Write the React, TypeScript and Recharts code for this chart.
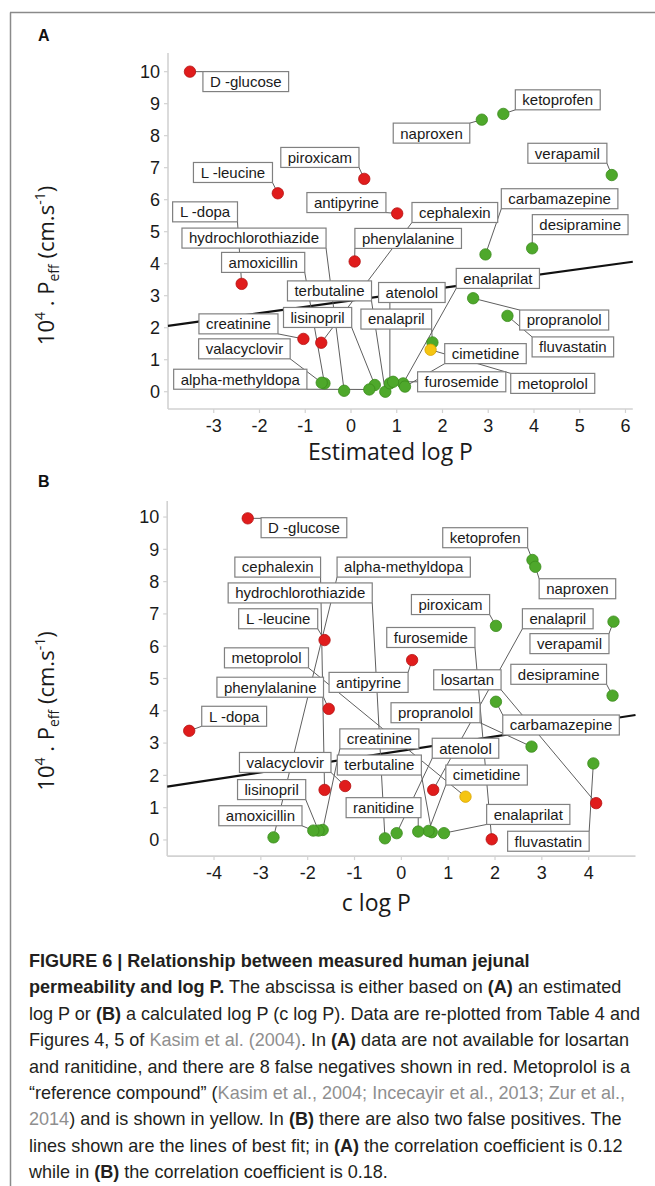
import React from 'react';
import { ScatterChart, Scatter, XAxis, YAxis } from 'recharts';

// ---------------- Panel A : estimated log P ----------------
const namesA = [
  'D -glucose', 'ketoprofen', 'naproxen', 'verapamil', 'piroxicam', 'L -leucine',
  'antipyrine', 'carbamazepine', 'desipramine', 'cephalexin', 'L -dopa',
  'hydrochlorothiazide', 'phenylalanine', 'amoxicillin', 'enalaprilat', 'terbutaline',
  'atenolol', 'propranolol', 'creatinine', 'lisinopril', 'enalapril', 'fluvastatin',
  'valacyclovir', 'cimetidine', 'metoprolol', 'alpha-methyldopa', 'furosemide',
];
const logPA = [
  -3.52, 3.33, 2.86, 5.70, 0.29, -1.60,
  1.01, 2.94, 3.96, -0.65, -2.39,
  -0.15, 0.08, -0.58, 1.14, 0.75,
  0.85, 2.67, -1.04, 0.52, 1.78, 3.42,
  -0.64, 1.18, 1.74, 0.40, 0.92,
];
const peffA = [
  10.0, 8.68, 8.50, 6.77, 6.65, 6.20,
  5.57, 4.29, 4.48, 1.53, 3.37,
  0.03, 4.07, 0.26, 0.26, 0.0,
  0.26, 2.92, 1.65, 0.21, 1.54, 2.37,
  0.28, 0.16, 1.31, 0.07, 0.31,
];
// neg = false negative (red), ref = reference compound (yellow), ok = green
const classA = [
  'neg', 'ok', 'ok', 'ok', 'neg', 'neg',
  'neg', 'ok', 'ok', 'neg', 'neg',
  'ok', 'neg', 'ok', 'ok', 'ok',
  'ok', 'ok', 'neg', 'ok', 'ok', 'ok',
  'ok', 'ok', 'ref', 'ok', 'ok',
];
const fitXA = [-4, 6.16];
const fitYA = [2.06, 4.06];
const xTicksA = [-3, -2, -1, 0, 1, 2, 3, 4, 5, 6];
const yTicksA = [0, 1, 2, 3, 4, 5, 6, 7, 8, 9, 10];

// ---------------- Panel B : c log P ----------------
const namesB = [
  'D -glucose', 'ketoprofen', 'cephalexin', 'alpha-methyldopa', 'hydrochlorothiazide',
  'naproxen', 'piroxicam', 'L -leucine', 'enalapril', 'verapamil', 'furosemide',
  'metoprolol', 'antipyrine', 'losartan', 'desipramine', 'phenylalanine', 'propranolol',
  'L -dopa', 'carbamazepine', 'creatinine', 'atenolol', 'valacyclovir', 'terbutaline',
  'cimetidine', 'lisinopril', 'ranitidine', 'amoxicillin', 'enalaprilat', 'fluvastatin',
];
const clogPB = [
  -3.28, 2.80, -1.64, -2.73, -0.35,
  2.86, 2.02, -1.64, 0.68, 4.53, 1.93,
  1.37, 0.23, 4.16, 4.51, -1.55, 2.78,
  -4.53, 2.02, -1.68, -0.10, -1.20, 0.65,
  0.58, -1.77, 0.36, -1.88, 0.91, 4.10,
];
const peffB = [
  9.96, 8.67, 1.55, 0.08, 0.05,
  8.46, 6.63, 6.19, 1.55, 6.76, 0.02,
  1.34, 5.57, 1.14, 4.47, 4.06, 2.89,
  3.38, 4.28, 0.31, 0.21, 1.67, 0.24,
  0.28, 0.29, 0.26, 0.29, 0.21, 2.37,
];
const classB = [
  'neg', 'ok', 'neg', 'ok', 'ok',
  'ok', 'ok', 'neg', 'neg', 'ok', 'neg',
  'ref', 'neg', 'neg', 'ok', 'neg', 'ok',
  'neg', 'ok', 'ok', 'ok', 'neg', 'ok',
  'ok', 'ok', 'ok', 'ok', 'ok', 'ok',
];
const fitXB = [-5, 5];
const fitYB = [1.65, 3.87];
const xTicksB = [-4, -3, -2, -1, 0, 1, 2, 3, 4];
const yTicksB = [0, 1, 2, 3, 4, 5, 6, 7, 8, 9, 10];

// ---------------- annotation layout (label box centres, data units) ----------------
const labelPosA: [number, number][] = [
  [-2.30, 9.69], [4.52, 9.12], [1.76, 8.08], [4.73, 7.45], [-0.68, 7.32], [-2.58, 6.85],
  [-0.10, 5.91], [4.56, 6.03], [5.01, 5.22], [2.27, 5.60], [-3.19, 5.62],
  [-2.12, 4.80], [1.25, 4.79], [-1.92, 4.04], [3.21, 3.54], [-0.47, 3.15],
  [1.33, 3.10], [4.66, 2.24], [-2.46, 2.12], [-0.73, 2.32], [0.99, 2.27], [4.85, 1.40],
  [-2.33, 1.34], [2.94, 1.19], [4.41, 0.26], [-2.42, 0.39], [2.42, 0.31],
];
const labelPosB: [number, number][] = [
  [-2.08, 9.67], [1.79, 9.36], [-2.64, 8.45], [0.05, 8.45], [-2.16, 7.65],
  [3.76, 7.78], [1.05, 7.29], [-2.63, 6.85], [3.34, 6.85], [3.59, 6.08], [0.63, 6.27],
  [-2.88, 5.64], [-0.70, 4.88], [1.41, 4.96], [3.36, 5.13], [-2.80, 4.73], [0.73, 3.94],
  [-3.57, 3.83], [3.41, 3.56], [-0.47, 3.13], [1.37, 2.84], [-2.48, 2.40], [-0.47, 2.32],
  [1.82, 2.01], [-2.77, 1.56], [-0.38, 1.00], [-3.01, 0.75], [2.71, 0.79], [3.14, -0.04],
];

// ---------------- styles ----------------
const SANS = '"Liberation Sans", Arial, Helvetica, sans-serif';
const TITLE_FONT = '"Open Sans", Lato, sans-serif';
const LABEL_FS = 15;
const LABEL_PAD = 7;
const LABEL_H = 20;
const COLORS: Record<string, { fill: string; stroke: string }> = {
  ok: { fill: '#4ea82b', stroke: '#3b8c1d' },
  neg: { fill: '#e01c1c', stroke: '#b51212' },
  ref: { fill: '#f5c511', stroke: '#d9a300' },
};

const layoutA = {
  top: 0, height: 480, marginTop: 53.1, marginBottom: 31, marginRight: 22.2,
  yAxisWidth: 168, xAxisHeight: 40, xDomain: [-4, 6.16], yDomain: [-0.54, 10.58],
};
const layoutB = {
  top: 450, height: 480, marginTop: 50.9, marginBottom: 33.9, marginRight: 19.5,
  yAxisWidth: 167.2, xAxisHeight: 40, xDomain: [-5, 5], yDomain: [-0.5, 10.5],
};

let ctx: CanvasRenderingContext2D | null = null;
function textWidth(t: string, font: string): number {
  if (!ctx && typeof document !== 'undefined') {
    ctx = document.createElement('canvas').getContext('2d');
  }
  if (!ctx) return t.length * 8;
  ctx.font = font;
  return ctx.measureText(t).width;
}
const clamp = (v: number, a: number, b: number) => Math.max(a, Math.min(b, v));

const Dot = (props: any) => {
  const { cx, cy, payload } = props;
  const c = COLORS[payload.c];
  return <circle cx={cx} cy={cy} r={5.7} fill={c.fill} stroke={c.stroke} strokeWidth={0.8} />;
};

const LabelBox = (props: any) => {
  const { cx, cy, payload } = props;
  const w = payload.w;
  return (
    <g>
      <rect x={cx - w / 2} y={cy - LABEL_H / 2} width={w} height={LABEL_H} fill="#ffffff" stroke="#808080" strokeWidth={1.2} />
      <text x={cx} y={cy} dy="0.36em" textAnchor="middle" fontSize={LABEL_FS} fontFamily={SANS} fill="#1a1a1a">
        {payload.name}
      </text>
    </g>
  );
};

const Nothing = () => <g />;

function Panel(p: {
  names: string[]; xs: number[]; ys: number[]; cls: string[]; labelPos: [number, number][];
  fitX: number[]; fitY: number[]; xTicks: number[]; yTicks: number[]; layout: any;
}) {
  const L = p.layout;
  const plotW = 655 - L.yAxisWidth - L.marginRight;
  const plotH = L.height - L.marginTop - L.marginBottom - L.xAxisHeight;
  const kx = plotW / (L.xDomain[1] - L.xDomain[0]);
  const ky = plotH / (L.yDomain[1] - L.yDomain[0]);
  const labelFont = `${LABEL_FS}px ${SANS}`;

  const pts = p.names.map((n, i) => ({ name: n, x: p.xs[i], y: p.ys[i], c: p.cls[i] }));
  const labels = p.names.map((n, i) => ({
    name: n, x: p.labelPos[i][0], y: p.labelPos[i][1], w: textWidth(n, labelFont) + 2 * LABEL_PAD,
  }));
  const leaders = labels.map((l, i) => {
    const hw = l.w / 2 / kx;
    const hh = LABEL_H / 2 / ky;
    const px = p.xs[i];
    const py = p.ys[i];
    return [
      { x: px, y: py },
      { x: clamp(px, l.x - hw, l.x + hw), y: clamp(py, l.y - hh, l.y + hh) },
    ];
  });
  const fit = [{ x: p.fitX[0], y: p.fitY[0] }, { x: p.fitX[1], y: p.fitY[1] }];
  const order = ['ok', 'neg', 'ref'];

  return (
    <div style={{ position: 'absolute', left: 0, top: L.top }}>
      <ScatterChart
        width={655}
        height={L.height}
        margin={{ top: L.marginTop, right: L.marginRight, bottom: L.marginBottom, left: 0 }}
      >
        <XAxis
          type="number" dataKey="x" domain={L.xDomain} ticks={p.xTicks} interval={0}
          height={L.xAxisHeight} axisLine={{ stroke: '#d2d2d2', strokeWidth: 1.6 }}
          tickLine={{ stroke: '#d2d2d2', strokeWidth: 1.2 }} tickSize={4} tickMargin={6}
          tick={{ fill: '#1a1a1a', fontSize: 18, fontFamily: SANS }}
        />
        <YAxis
          type="number" dataKey="y" domain={L.yDomain} ticks={p.yTicks} interval={0}
          width={L.yAxisWidth} axisLine={{ stroke: '#d2d2d2', strokeWidth: 1.6 }}
          tickLine={{ stroke: '#d2d2d2', strokeWidth: 1.2 }} tickSize={4} tickMargin={4}
          tick={{ fill: '#1a1a1a', fontSize: 18, fontFamily: SANS }}
        />
        <Scatter data={fit} line={{ stroke: '#111111', strokeWidth: 2.2 }} shape={Nothing} isAnimationActive={false} />
        {leaders.map((seg, i) => (
          <Scatter key={'l' + i} data={seg} line={{ stroke: '#5f5f5f', strokeWidth: 1 }} shape={Nothing} isAnimationActive={false} />
        ))}
        {order.map((c) => (
          <Scatter key={'p' + c} data={pts.filter((d) => d.c === c)} shape={Dot} isAnimationActive={false} />
        ))}
        <Scatter data={labels} shape={LabelBox} isAnimationActive={false} />
      </ScatterChart>
    </div>
  );
}

const YTitle = ({ x, y }: { x: number; y: number }) => (
  <text transform={`translate(${x},${y}) rotate(-90)`} textAnchor="middle" fontFamily={TITLE_FONT} fontSize={22} fill="#1a1a1a">
    10<tspan fontSize={14} dy={-9}>4</tspan>
    <tspan dy={9}> . P</tspan>
    <tspan fontSize={14} dy={5}>eff</tspan>
    <tspan dy={-5}> (cm.s</tspan>
    <tspan fontSize={14} dy={-9}>-1</tspan>
    <tspan dy={9}>)</tspan>
  </text>
);

// ---------------- caption ----------------
type Seg = { t: string; b?: boolean; g?: boolean };
const captionLines: Seg[][] = [
  [{ t: 'FIGURE 6 | Relationship between measured human jejunal', b: true }],
  [{ t: 'permeability and log P.', b: true }, { t: ' The abscissa is either based on ' }, { t: '(A)', b: true }, { t: ' an estimated' }],
  [{ t: 'log P or ' }, { t: '(B)', b: true }, { t: ' a calculated log P (c log P). Data are re-plotted from Table 4 and' }],
  [{ t: 'Figures 4, 5 of ' }, { t: 'Kasim et al. (2004)', g: true }, { t: '. In ' }, { t: '(A)', b: true }, { t: ' data are not available for losartan' }],
  [{ t: 'and ranitidine, and there are 8 false negatives shown in red. Metoprolol is a' }],
  [{ t: '\u201Creference compound\u201D (' }, { t: 'Kasim et al., 2004; Incecayir et al., 2013; Zur et al.,', g: true }],
  [{ t: '2014', g: true }, { t: ') and is shown in yellow. In ' }, { t: '(B)', b: true }, { t: ' there are also two false positives. The' }],
  [{ t: 'lines shown are the lines of best fit; in ' }, { t: '(A)', b: true }, { t: ' the correlation coefficient is 0.12' }],
  [{ t: 'while in ' }, { t: '(B)', b: true }, { t: ' the correlation coefficient is 0.18.' }],
];
const CAP_FS = 19;
function lineWidth(segs: Seg[]) {
  return segs.reduce((s, g) => s + textWidth(g.t, `${g.b ? 'bold ' : ''}${CAP_FS}px ${SANS}`), 0);
}

export default function App() {
  const k = 612 / lineWidth(captionLines[2]);
  return (
    <div style={{ position: 'absolute', left: 0, top: 0, width: 655, height: 1186, background: '#fff', overflow: 'hidden' }}>
      <Panel names={namesA} xs={logPA} ys={peffA} cls={classA} labelPos={labelPosA}
        fitX={fitXA} fitY={fitYA} xTicks={xTicksA} yTicks={yTicksA} layout={layoutA} />
      <Panel names={namesB} xs={clogPB} ys={peffB} cls={classB} labelPos={labelPosB}
        fitX={fitXB} fitY={fitYB} xTicks={xTicksB} yTicks={yTicksB} layout={layoutB} />
      <svg width={655} height={1186} style={{ position: 'absolute', left: 0, top: 0, pointerEvents: 'none' }}>
        <line x1={10.5} y1={12.5} x2={10.5} y2={1186} stroke="#8a8a8a" strokeWidth={1.5} />
        <line x1={10} y1={12.5} x2={655} y2={12.5} stroke="#8a8a8a" strokeWidth={1.5} />
        <text x={38} y={41} fontFamily={SANS} fontWeight="bold" fontSize={16} fill="#111">A</text>
        <text x={38} y={487} fontFamily={SANS} fontWeight="bold" fontSize={16} fill="#111">B</text>
        <text x={390.5} y={460} textAnchor="middle" fontFamily={TITLE_FONT} fontSize={23} fill="#1a1a1a">Estimated log P</text>
        <text x={376.3} y={911} textAnchor="middle" fontFamily={TITLE_FONT} fontSize={23} fill="#1a1a1a">c log P</text>
        <YTitle x={54} y={265.5} />
        <YTitle x={54} y={711} />
      </svg>
      <div
        style={{
          position: 'absolute', left: 29, top: 948, whiteSpace: 'nowrap',
          fontFamily: SANS, fontSize: CAP_FS, lineHeight: '26.4px', color: '#231f20',
          transform: `scaleX(${k})`, transformOrigin: '0 0',
        }}
      >
        {captionLines.map((segs, i) => (
          <div key={i}>
            {segs.map((s, j) => (
              <span key={j} style={{ fontWeight: s.b ? 'bold' : 'normal', color: s.g ? '#8f8f8f' : undefined }}>{s.t}</span>
            ))}
          </div>
        ))}
      </div>
    </div>
  );
}
